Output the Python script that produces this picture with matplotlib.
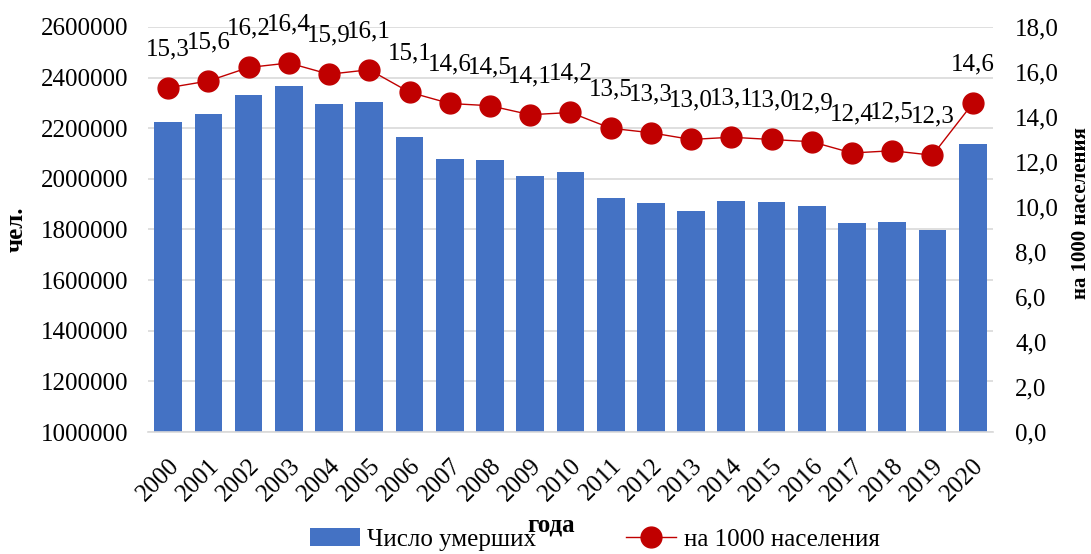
import matplotlib
matplotlib.use("Agg")
import matplotlib.pyplot as plt
from matplotlib.ticker import FuncFormatter

# Данные
years = [str(y) for y in range(2000, 2021)]
deaths = [2225300, 2254900, 2332300, 2365800, 2295400, 2303900, 2166700,
          2080400, 2076000, 2010500, 2028500, 1925700, 1906300, 1871800,
          1912300, 1908500, 1891000, 1826100, 1828900, 1798300, 2138600]
rate = [15.3, 15.6, 16.2, 16.4, 15.9, 16.1, 15.1, 14.6, 14.5, 14.1, 14.2,
        13.5, 13.3, 13.0, 13.1, 13.0, 12.9, 12.4, 12.5, 12.3, 14.6]

plt.rcParams['font.family'] = ['Liberation Serif', 'DejaVu Serif']

fig = plt.figure(figsize=(10.91, 5.54), dpi=100)
ax = fig.add_axes([0.1357, 0.2202, 0.7743, 0.7311])
x = list(range(len(years)))

# Столбцы
bars = ax.bar(x, deaths, width=0.69, color='#4472C4', label='Число умерших', zorder=2)
ax.set_ylim(1000000, 2600000)
ax.set_yticks(range(1000000, 2600001, 200000))
ax.yaxis.set_major_formatter(FuncFormatter(lambda v, p: f'{int(v)}'))
ax.set_xlim(-0.5, len(years) - 0.5)
ax.set_xticks(x)
ax.set_xticklabels(years, rotation=45, ha='right', rotation_mode='anchor')
ax.tick_params(axis='both', length=0, labelsize=18)
ax.tick_params(axis='x', pad=16)
ax.tick_params(axis='y', pad=14)
ax.grid(axis='y', color='#D9D9D9', linewidth=1.2, zorder=0)
for s in ['top', 'right', 'left']:
    ax.spines[s].set_visible(False)
ax.spines['bottom'].set_color('#D9D9D9')
ax.spines['bottom'].set_linewidth(1.2)
ax.set_ylabel('чел.', fontsize=18, fontweight='bold')
ax.yaxis.set_label_coords(-0.142, 0.5)
ax.set_xlabel('года', fontsize=18, fontweight='bold')
ax.xaxis.set_label_coords(0.477, -0.2)

# Линия на вторичной оси
ax2 = ax.twinx()
line, = ax2.plot(x, rate, color='#C00000', linewidth=1, marker='o',
                 markersize=15, label='на 1000 населения', zorder=3)
ax2.set_ylim(0, 18)
ax2.set_yticks(range(0, 19, 2))
ax2.yaxis.set_major_formatter(FuncFormatter(lambda v, p: f'{v:.1f}'.replace('.', ',')))
ax2.tick_params(axis='y', length=0, labelsize=18, pad=16)
for s in ax2.spines.values():
    s.set_visible(False)
ax2.set_ylabel('на 1000 населения', fontsize=15, fontweight='bold', rotation=90)
ax2.yaxis.set_label_coords(1.092, 0.54)

for i, v in enumerate(rate):
    ax2.annotate(f'{v:.1f}'.replace('.', ','), (i, v), xytext=(0, 20),
                 textcoords='offset points', ha='center', va='bottom', fontsize=18)

fig.legend([bars, line], ['Число умерших', 'на 1000 населения'],
           loc='lower center', bbox_to_anchor=(0.545, -0.035), ncol=2,
           frameon=False, fontsize=18, columnspacing=3.6, handlelength=2.0,
           handletextpad=0.3)

fig.savefig('out.png', dpi=100)
